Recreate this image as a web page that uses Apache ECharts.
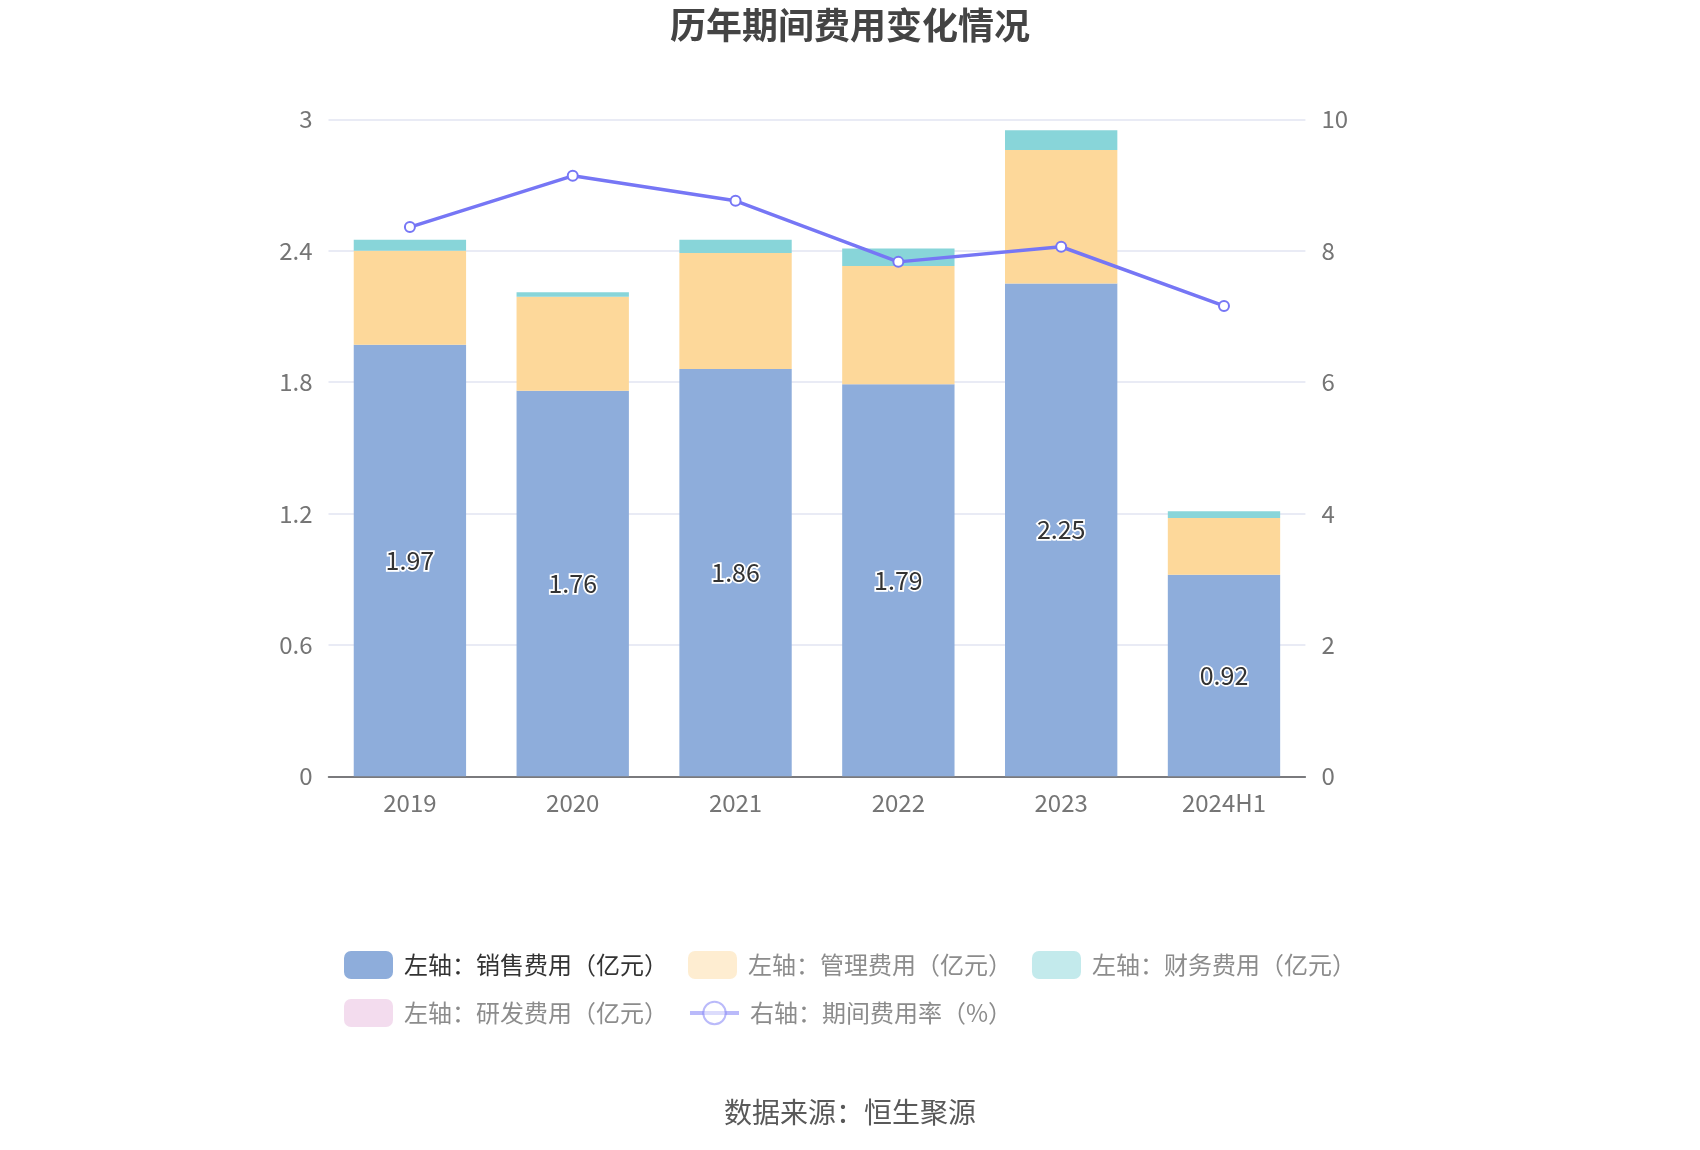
<!DOCTYPE html>
<html>
<head>
<meta charset="utf-8">
<script src="https://cdn.jsdelivr.net/npm/echarts@6/dist/echarts.min.js"></script>
<style>html,body{margin:0;padding:0;background:#fff}#c{width:1700px;height:1150px}</style>
</head>
<body>
<div id="c"></div>
<script>
var categories = ['2019', '2020', '2021', '2022', '2023', '2024H1'];
var salesExp = [1.97, 1.76, 1.86, 1.79, 2.25, 0.92];
var mgmtExp = [0.43, 0.43, 0.53, 0.54, 0.61, 0.26];
var finExp = [0.05, 0.02, 0.06, 0.08, 0.09, 0.03];
var rdExp = [0, 0, 0, 0, 0, 0];
var expRate = [8.36, 9.14, 8.76, 7.83, 8.06, 7.16];
var leftTicks = [0, 0.6, 1.2, 1.8, 2.4, 3];
var rightTicks = [0, 2, 4, 6, 8, 10];

var FONT = '"Noto Sans CJK SC", "Noto Sans", sans-serif';
var names = ['左轴：销售费用（亿元）', '左轴：管理费用（亿元）', '左轴：财务费用（亿元）', '左轴：研发费用（亿元）', '右轴：期间费用率（%）'];
var colors = ['#8eaddb', '#fdd89a', '#88d5d9', '#e7b9dd', '#7676f5'];

var chart = echarts.init(document.getElementById('c'));
chart.setOption({
  animation: false,
  textStyle: { fontFamily: FONT },
  title: {
    text: '历年期间费用变化情况',
    left: 'center', top: 2,
    textStyle: { fontSize: 36, fontWeight: 'bold', color: '#444', fontFamily: FONT }
  },
  graphic: [{
    type: 'text', left: 'center', top: 1098,
    style: { text: '数据来源：恒生聚源', fontSize: 28, fill: '#595959', fontFamily: FONT }
  }],
  legend: {
    left: 344, top: 951, width: 1060, padding: 0,
    itemWidth: 49, itemHeight: 28, itemGap: 20,
    textStyle: { fontSize: 24, color: '#333', padding: [0, 12, 0, 6], fontFamily: FONT },
    data: [
      { name: names[0] },
      { name: names[1], itemStyle: { opacity: 0.45 }, textStyle: { color: '#8c8c8c' } },
      { name: names[2], itemStyle: { opacity: 0.5 }, textStyle: { color: '#8c8c8c' } },
      { name: names[3], itemStyle: { opacity: 0.5 }, textStyle: { color: '#8c8c8c' } },
      { name: names[4], itemStyle: { opacity: 0.5, borderWidth: 3.5 }, lineStyle: { opacity: 0.5, width: 4 }, textStyle: { color: '#8c8c8c' } }
    ]
  },
  grid: { left: 328.5, right: 394.6, top: 119.3, bottom: 373.7, containLabel: false },
  xAxis: {
    type: 'category', data: categories,
    axisLine: { lineStyle: { color: '#555', width: 1.5 } },
    axisTick: { alignWithLabel: true, length: 10, lineStyle: { color: '#555' } },
    axisLabel: { fontSize: 24, color: '#757575', margin: 15, fontFamily: FONT }
  },
  yAxis: [{
    type: 'value', min: 0, max: 3, interval: 0.6,
    axisLine: { show: false }, axisTick: { show: false },
    splitLine: { lineStyle: { color: '#e2e4f2', width: 1.5 } },
    axisLabel: { fontSize: 24, color: '#757575', margin: 16, fontFamily: FONT,
      formatter: function (v) { var i = leftTicks.indexOf(Math.round(v * 10) / 10); return i >= 0 ? String(leftTicks[i]) : ''; } }
  }, {
    type: 'value', min: 0, max: 10, interval: 2,
    axisLine: { show: false }, axisTick: { show: false },
    splitLine: { show: false },
    axisLabel: { fontSize: 24, color: '#757575', margin: 16, fontFamily: FONT,
      formatter: function (v) { var i = rightTicks.indexOf(v); return i >= 0 ? String(rightTicks[i]) : ''; } }
  }],
  series: [
    { name: names[0], type: 'bar', stack: 'a', data: salesExp, barWidth: '69%',
      itemStyle: { color: colors[0] },
      label: { show: true, position: 'inside', fontSize: 25, color: '#333', textBorderColor: '#fff', textBorderWidth: 3.5, fontFamily: FONT } },
    { name: names[1], type: 'bar', stack: 'a', data: mgmtExp, itemStyle: { color: colors[1] } },
    { name: names[2], type: 'bar', stack: 'a', data: finExp, itemStyle: { color: colors[2] } },
    { name: names[3], type: 'bar', stack: 'a', data: rdExp, itemStyle: { color: colors[3] } },
    { name: names[4], type: 'line', yAxisIndex: 1, data: expRate, z: 5,
      symbol: 'emptyCircle', symbolSize: 10,
      lineStyle: { color: colors[4], width: 3.5 },
      itemStyle: { color: colors[4], borderWidth: 3 } }
  ]
});
</script>
</body>
</html>
